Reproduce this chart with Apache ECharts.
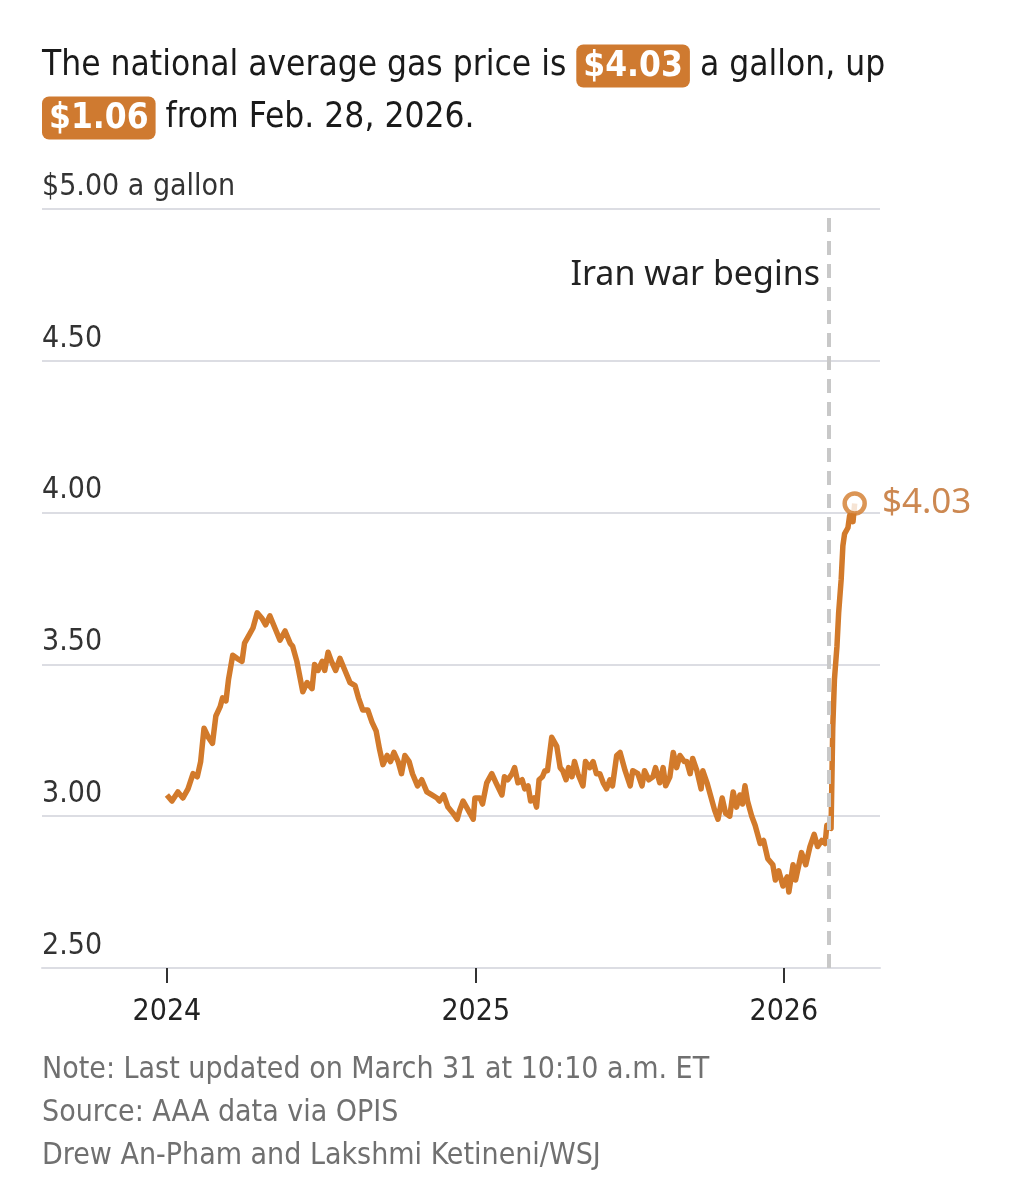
<!DOCTYPE html>
<html>
<head>
<meta charset="utf-8">
<title>National average gas price</title>
<script src="https://cdn.jsdelivr.net/npm/echarts@6/dist/echarts.min.js"></script>
<style>
  html, body { margin: 0; padding: 0; background: #fff; }
  #chart { width: 1018px; height: 1200px; }
</style>
</head>
<body>
<div id="chart"></div>
<script>
// x = days since Jan. 1, 2024, y = AAA national average, $/gallon
var days = [0, 6, 13, 19, 25, 31, 36, 40, 44, 49, 54, 58, 63, 66, 70, 73, 78, 83, 89, 92,
  96, 102, 107, 113, 117, 122, 128, 134, 140, 146, 149, 154, 161, 166, 172, 175, 179, 184, 187, 191,
  195, 200, 205, 211, 217, 223, 227, 232, 238, 243, 248, 252, 256, 261, 265, 269, 274, 278, 282, 287,
  291, 297, 302, 308, 314, 320, 323, 328, 333, 339, 344, 347, 351, 357, 363, 365, 371, 374, 379, 385,
  390, 397, 400, 404, 409, 412, 416, 421, 424, 428, 431, 435, 438, 441, 445, 448, 451, 456, 458, 462,
  466, 469, 473, 476, 480, 483, 487, 493, 496, 501, 505, 509, 513, 517, 521, 525, 528, 533, 537, 543,
  549, 552, 558, 563, 566, 571, 576, 579, 584, 588, 591, 596, 600, 604, 608, 613, 616, 620, 623, 628,
  633, 635, 640, 646, 649, 653, 658, 662, 667, 671, 675, 679, 682, 685, 688, 693, 697, 703, 707, 712,
  718, 721, 725, 730, 735, 737, 742, 745, 752, 757, 762, 767, 771, 776, 780, 782, 787, 788, 789, 791,
  794, 796, 799, 801, 803, 807, 809, 813, 815];
var prices = [3.07, 3.05, 3.08, 3.06, 3.09, 3.14, 3.13, 3.18, 3.29, 3.26, 3.24, 3.33, 3.36, 3.39, 3.38, 3.45, 3.53, 3.52, 3.51, 3.57,
  3.59, 3.62, 3.67, 3.65, 3.63, 3.66, 3.62, 3.58, 3.61, 3.57, 3.56, 3.51, 3.41, 3.44, 3.42, 3.50, 3.48, 3.51, 3.48, 3.54,
  3.51, 3.48, 3.52, 3.48, 3.44, 3.43, 3.39, 3.35, 3.35, 3.31, 3.28, 3.22, 3.17, 3.20, 3.18, 3.21, 3.18, 3.14, 3.20, 3.18,
  3.14, 3.10, 3.12, 3.08, 3.07, 3.06, 3.05, 3.07, 3.03, 3.01, 2.99, 3.02, 3.05, 3.02, 2.99, 3.06, 3.06, 3.04, 3.11, 3.14,
  3.11, 3.07, 3.13, 3.12, 3.14, 3.16, 3.11, 3.12, 3.09, 3.10, 3.05, 3.06, 3.03, 3.12, 3.13, 3.15, 3.15, 3.26, 3.25, 3.23,
  3.16, 3.15, 3.12, 3.16, 3.13, 3.18, 3.14, 3.10, 3.18, 3.16, 3.18, 3.14, 3.14, 3.11, 3.09, 3.12, 3.10, 3.20, 3.21, 3.15,
  3.10, 3.15, 3.14, 3.10, 3.15, 3.12, 3.13, 3.16, 3.11, 3.16, 3.10, 3.13, 3.21, 3.16, 3.20, 3.18, 3.18, 3.14, 3.19, 3.15,
  3.09, 3.15, 3.11, 3.05, 3.02, 2.99, 3.06, 3.01, 3.00, 3.08, 3.03, 3.07, 3.04, 3.10, 3.05, 3.00, 2.97, 2.91, 2.92, 2.86,
  2.84, 2.79, 2.82, 2.77, 2.80, 2.75, 2.84, 2.79, 2.88, 2.84, 2.90, 2.94, 2.90, 2.92, 2.91, 2.97, 2.96, 3.12, 3.29, 3.45,
  3.56, 3.67, 3.78, 3.89, 3.93, 3.95, 3.99, 3.97, 4.03];

var yearTicks = [0, 366, 731];
var yearLabels = ['2024', '2025', '2026'];
var warDay = 784;          // "Iran war begins" dashed line
var warLabelPrice = 4.78;  // height of its label
var xMin = -148, xMax = 845;
var yMin = 2.5, yMax = 5, yStep = 0.5;

var orange = '#D27A2B';
var narrow = '"Liberation Sans Narrow", "DejaVu Sans Condensed", sans-serif';
var regular = '"Noto Sans", "Open Sans", sans-serif';

var lineData = days.map(function (d, i) { return [d, prices[i]]; });
var last = lineData[lineData.length - 1];

var myChart = echarts.init(document.getElementById('chart'));

var option = {
  animation: false,
  backgroundColor: '#fff',
  title: [
    {
      left: 42,
      top: 40,
      padding: 0,
      text: 'The national average gas price is {b|$4.03} a gallon, up\n{b|$1.06} from Feb. 28, 2026.',
      textStyle: {
        fontFamily: narrow,
        fontSize: 35,
        fontWeight: 'normal',
        lineHeight: 52,
        color: '#1a1a1a',
        rich: {
          b: {
            fontFamily: narrow,
            fontSize: 35,
            fontWeight: 'bold',
            color: '#fff',
            backgroundColor: '#CF7A30',
            borderRadius: 7,
            padding: [5, 7, 3, 7],
            lineHeight: 40,
            verticalAlign: 'middle'
          }
        }
      }
    },
    {
      left: 42,
      top: 1049,
      padding: 0,
      text: 'Note: Last updated on March 31 at 10:10 a.m. ET\nSource: AAA data via OPIS\nDrew An-Pham and Lakshmi Ketineni/WSJ',
      textStyle: {
        fontFamily: narrow,
        fontSize: 30,
        fontWeight: 'normal',
        lineHeight: 43,
        color: '#707070'
      }
    }
  ],
  grid: { left: 42, right: 138, top: 209, bottom: 232 },
  xAxis: {
    type: 'value',
    min: xMin,
    max: xMax,
    splitLine: { show: false },
    axisLine: { lineStyle: { color: '#dcdde3', width: 2 } },
    axisTick: { customValues: yearTicks, length: 15, lineStyle: { color: '#333', width: 2 } },
    axisLabel: {
      customValues: yearTicks,
      margin: 29,
      fontSize: 30,
      fontFamily: narrow,
      color: '#222',
      formatter: function (v) { return yearLabels[yearTicks.indexOf(v)]; }
    }
  },
  yAxis: {
    type: 'value',
    min: yMin,
    max: yMax,
    interval: yStep,
    axisLine: { show: false },
    axisTick: { show: false },
    splitLine: { lineStyle: { color: '#dcdde3', width: 2 } },
    axisLabel: {
      inside: true,
      margin: 0,
      verticalAlign: 'bottom',
      padding: [0, 0, 7, 0],
      fontSize: 30,
      fontFamily: narrow,
      color: '#333',
      formatter: function (v) { return v === yMax ? '$5.00 a gallon' : v.toFixed(2); }
    }
  },
  series: [
    {
      type: 'line',
      data: lineData,
      symbol: 'none',
      showSymbol: false,
      z: 3,
      lineStyle: { color: orange, width: 5.5, join: 'round' },
      markLine: {
        silent: true,
        symbol: ['none', 'none'],
        label: { show: false },
        lineStyle: { color: '#c8c8c8', width: 4, type: [14, 9] },
        data: [{ xAxis: warDay }]
      },
      markPoint: {
        silent: true,
        symbol: 'circle',
        symbolSize: 1,
        itemStyle: { color: 'rgba(0,0,0,0)' },
        label: {
          show: true,
          position: 'left',
          distance: 8,
          formatter: 'Iran war begins',
          fontSize: 34,
          fontFamily: regular,
          color: '#222'
        },
        data: [{ coord: [warDay, warLabelPrice] }]
      }
    },
    {
      type: 'scatter',
      data: [last],
      symbol: 'circle',
      symbolSize: 20,
      z: 5,
      itemStyle: { color: '#fff', borderColor: orange, borderWidth: 4.5 },
      label: {
        show: true,
        position: 'right',
        distance: 15,
        fontSize: 35,
        fontFamily: regular,
        color: '#BF6A25',
        formatter: function (p) { return '$' + p.value[1].toFixed(2); }
      }
    }
  ]
};

myChart.setOption(option);
window.onresize = myChart.resize;
</script>
</body>
</html>
